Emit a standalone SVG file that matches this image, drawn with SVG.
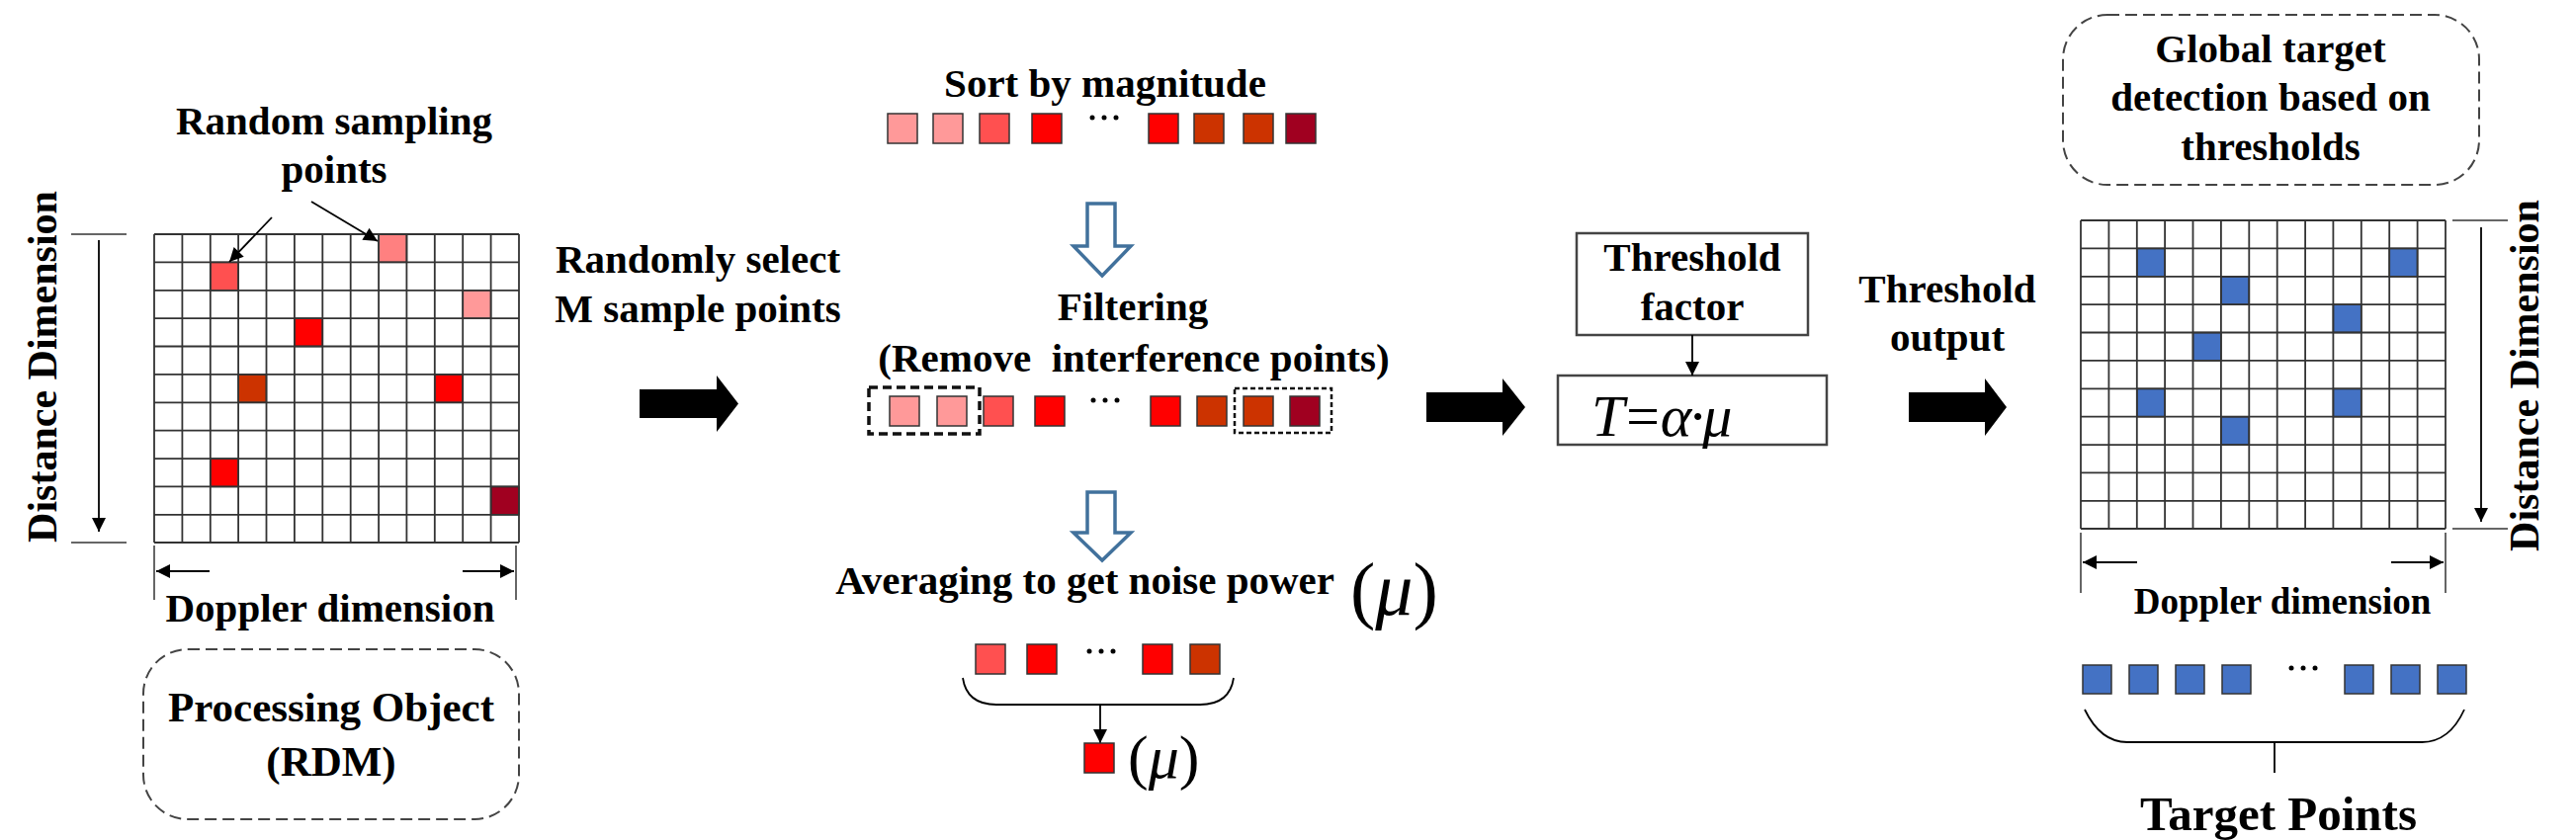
<svg xmlns="http://www.w3.org/2000/svg" width="2606" height="850" viewBox="0 0 2606 850">
<defs>
<style>
text{font-family:"Liberation Serif","Times New Roman",serif;font-weight:bold;fill:#000;font-size:41px}
.mid{text-anchor:middle}
.it{font-style:italic;font-weight:normal}
.grid{fill:none;stroke:#333;stroke-width:1.8}
.sq{stroke:#333;stroke-width:1.5}
.thin{stroke:#000;stroke-width:1.8;fill:none}
.gray{stroke:#666;stroke-width:2;fill:none}
.dbox{fill:none;stroke:#444;stroke-width:2;stroke-dasharray:12 6}
.hollow{fill:#fff;stroke:#41719C;stroke-width:3.5;stroke-linejoin:miter}
.box{fill:#fff;stroke:#444;stroke-width:2.5}
.dot{fill:#000}
.c1{fill:#FF9999}.c2{fill:#FF5050}.c3{fill:#FF0000}.c4{fill:#CC3300}.c5{fill:#A00020}.c0{fill:#FF8080}.b{fill:#4472C4}
</style>
<marker id="ahL" viewBox="0 0 10 10" refX="10" refY="5" markerWidth="16" markerHeight="14" markerUnits="userSpaceOnUse" orient="auto"><path d="M0,0 L10,5 L0,10 z" fill="#000"/></marker>
</defs>
<rect width="2606" height="850" fill="#fff"/>

<g id="rdm-grid">
<rect class="sq c2" x="212.8" y="265.4" width="28.4" height="28.4"/>
<rect class="sq c0" x="383.1" y="237" width="28.4" height="28.4"/>
<rect class="sq c1" x="468.2" y="293.8" width="28.4" height="28.4"/>
<rect class="sq c3" x="297.9" y="322.1" width="28.4" height="28.4"/>
<rect class="sq c4" x="241.1" y="378.9" width="28.4" height="28.4"/>
<rect class="sq c3" x="439.8" y="378.9" width="28.4" height="28.4"/>
<rect class="sq c3" x="212.8" y="464.1" width="28.4" height="28.4"/>
<rect class="sq c5" x="496.6" y="492.4" width="28.4" height="28.4"/>
<path class="grid" d="M156,237V549M184.4,237V549M212.8,237V549M241.1,237V549M269.5,237V549M297.9,237V549M326.3,237V549M354.7,237V549M383.1,237V549M411.4,237V549M439.8,237V549M468.2,237V549M496.6,237V549M525,237V549M156,237H525M156,265.4H525M156,293.8H525M156,322.1H525M156,350.5H525M156,378.9H525M156,407.3H525M156,435.7H525M156,464.1H525M156,492.4H525M156,520.8H525M156,549H525"/>
<text x="338" y="136" class="mid">Random sampling</text>
<text x="338" y="185" class="mid">points</text>
<path class="gray" d="M72,237H128M72,549H128M156,552V607M522,552V607"/>
<line class="thin" x1="100" y1="243" x2="100" y2="538" marker-end="url(#ahL)"/>
<line class="thin" x1="212" y1="578" x2="158" y2="578" marker-end="url(#ahL)"/>
<line class="thin" x1="468" y1="578" x2="520" y2="578" marker-end="url(#ahL)"/>
<text transform="translate(57,371) rotate(-90)" class="mid" style="font-size:42px">Distance Dimension</text>
<text x="334" y="629" class="mid">Doppler dimension</text>
</g>

<g id="processing-object">
<rect class="dbox" x="145" y="657" width="380" height="172" rx="45"/>
<text x="335" y="730" class="mid" style="font-size:43px">Processing Object</text>
<text x="335" y="785" class="mid" style="font-size:43px">(RDM)</text>
</g>

<g id="random-select">
<text x="706" y="276" class="mid">Randomly select</text>
<text x="706" y="326" class="mid">M sample points</text>
</g>

<g id="sort">
<text x="1118" y="98" class="mid">Sort by magnitude</text>
<rect class="sq c1" x="898" y="115" width="30" height="30"/>
<rect class="sq c1" x="944" y="115" width="30" height="30"/>
<rect class="sq c2" x="991" y="115" width="30" height="30"/>
<rect class="sq c3" x="1044" y="115" width="30" height="30"/>
<circle class="dot" cx="1105" cy="119" r="2.5"/><circle class="dot" cx="1117" cy="119" r="2.5"/><circle class="dot" cx="1129" cy="119" r="2.5"/>
<rect class="sq c3" x="1162" y="115" width="30" height="30"/>
<rect class="sq c4" x="1208" y="115" width="30" height="30"/>
<rect class="sq c4" x="1258" y="115" width="30" height="30"/>
<rect class="sq c5" x="1301" y="115" width="30" height="30"/>
</g>

<g id="filtering">
<text x="1146" y="324" class="mid">Filtering</text>
<text x="1147" y="376" class="mid" xml:space="preserve">(Remove  interference points)</text>
<rect class="sq c1" x="900" y="401" width="30" height="30"/>
<rect class="sq c1" x="948" y="401" width="30" height="30"/>
<rect class="sq c2" x="995" y="401" width="30" height="30"/>
<rect class="sq c3" x="1047" y="401" width="30" height="30"/>
<circle class="dot" cx="1106" cy="405" r="2.5"/><circle class="dot" cx="1118" cy="405" r="2.5"/><circle class="dot" cx="1130" cy="405" r="2.5"/>
<rect class="sq c3" x="1164" y="401" width="30" height="30"/>
<rect class="sq c4" x="1211" y="401" width="30" height="30"/>
<rect class="sq c4" x="1258" y="401" width="30" height="30"/>
<rect class="sq c5" x="1305" y="401" width="30" height="30"/>
<rect x="879" y="392" width="112" height="47" fill="none" stroke="#111" stroke-width="3.5" stroke-dasharray="9 5"/>
<rect x="1249" y="393" width="98" height="45" fill="none" stroke="#111" stroke-width="2.5" stroke-dasharray="5 3"/>
</g>

<g id="averaging">
<text x="1350" y="601" text-anchor="end">Averaging to get noise power</text>
<text x="1366" y="622" style="font-size:76px;font-weight:normal">(<tspan class="it">μ</tspan>)</text>
<rect class="sq c2" x="987" y="652" width="30" height="30"/>
<rect class="sq c3" x="1039" y="652" width="30" height="30"/>
<circle class="dot" cx="1102" cy="659" r="2.5"/><circle class="dot" cx="1114" cy="659" r="2.5"/><circle class="dot" cx="1126" cy="659" r="2.5"/>
<rect class="sq c3" x="1156" y="652" width="30" height="30"/>
<rect class="sq c4" x="1204" y="652" width="30" height="30"/>
<path class="thin" stroke-width="2.5" d="M974,686 Q978,713 1008,713 L1214,713 Q1244,713 1248,686"/>
<line class="thin" x1="1113" y1="713" x2="1113" y2="752" marker-end="url(#ahL)"/>
<rect class="sq c3" x="1097" y="752" width="30" height="30"/>
<text x="1141" y="787" style="font-size:62px;font-weight:normal">(<tspan class="it">μ</tspan>)</text>
</g>

<g id="threshold-factor">
<rect class="box" x="1595" y="236" width="234" height="103"/>
<text x="1712" y="274" class="mid">Threshold</text>
<text x="1712" y="324" class="mid">factor</text>
</g>

<g id="threshold-formula">
<rect class="box" x="1576" y="380" width="272" height="70"/>
<text x="1610" y="441" style="font-size:60px;font-style:italic;font-weight:normal;letter-spacing:-2px">T=α·μ</text>
</g>

<g id="threshold-output">
<text x="1970" y="306" class="mid">Threshold</text>
<text x="1970" y="355" class="mid">output</text>
</g>

<g id="global-detection">
<rect class="dbox" x="2087" y="15" width="421" height="172" rx="45"/>
<text x="2297" y="63" class="mid">Global target</text>
<text x="2297" y="112" class="mid">detection based on</text>
<text x="2297" y="162" class="mid">thresholds</text>
</g>

<g id="result-grid">
<rect class="sq b" x="2161.8" y="251.4" width="28.4" height="28.4"/>
<rect class="sq b" x="2417.2" y="251.4" width="28.4" height="28.4"/>
<rect class="sq b" x="2246.9" y="279.8" width="28.4" height="28.4"/>
<rect class="sq b" x="2360.4" y="308.1" width="28.4" height="28.4"/>
<rect class="sq b" x="2218.5" y="336.5" width="28.4" height="28.4"/>
<rect class="sq b" x="2161.8" y="393.3" width="28.4" height="28.4"/>
<rect class="sq b" x="2360.4" y="393.3" width="28.4" height="28.4"/>
<rect class="sq b" x="2246.9" y="421.7" width="28.4" height="28.4"/>
<path class="grid" d="M2105,223V535M2133.4,223V535M2161.8,223V535M2190.1,223V535M2218.5,223V535M2246.9,223V535M2275.3,223V535M2303.7,223V535M2332.1,223V535M2360.4,223V535M2388.8,223V535M2417.2,223V535M2445.6,223V535M2474,223V535M2105,223H2474M2105,251.4H2474M2105,279.8H2474M2105,308.1H2474M2105,336.5H2474M2105,364.9H2474M2105,393.3H2474M2105,421.7H2474M2105,450.1H2474M2105,478.4H2474M2105,506.8H2474M2105,535H2474"/>
<path class="gray" d="M2481,223H2537M2481,535H2537M2105,539V600M2474,539V600"/>
<line class="thin" x1="2510" y1="230" x2="2510" y2="528" marker-end="url(#ahL)"/>
<line class="thin" x1="2162" y1="569" x2="2107" y2="569" marker-end="url(#ahL)"/>
<line class="thin" x1="2419" y1="569" x2="2472" y2="569" marker-end="url(#ahL)"/>
<text transform="translate(2568,380) rotate(-90)" class="mid" style="font-size:42px">Distance Dimension</text>
<text x="2309" y="621" class="mid" style="font-size:37px">Doppler dimension</text>
</g>

<g id="target-points">
<rect class="sq b" x="2107" y="673" width="29" height="29"/>
<rect class="sq b" x="2154" y="673" width="29" height="29"/>
<rect class="sq b" x="2201" y="673" width="29" height="29"/>
<rect class="sq b" x="2248" y="673" width="29" height="29"/>
<circle class="dot" cx="2318" cy="676" r="2.5"/><circle class="dot" cx="2330" cy="676" r="2.5"/><circle class="dot" cx="2342" cy="676" r="2.5"/>
<rect class="sq b" x="2372" y="673" width="29" height="29"/>
<rect class="sq b" x="2419" y="673" width="29" height="29"/>
<rect class="sq b" x="2466" y="673" width="29" height="29"/>
<path class="thin" stroke-width="2.5" d="M2109,718 Q2125,751 2152,751 L2450,751 Q2478,751 2493,718 M2301,751 V782"/>
<text x="2305" y="840" class="mid" style="font-size:49px">Target Points</text>
</g>

<g id="connectors">
<line class="thin" x1="275" y1="220" x2="232" y2="265" marker-end="url(#ahL)"/>
<line class="thin" x1="315" y1="204" x2="382" y2="244" marker-end="url(#ahL)"/>
<path d="M647,394H725V380L747,408.5L725,437V423H647Z" fill="#000"/>
<path d="M1443,397H1520V383L1543,412L1520,441V427H1443Z" fill="#000"/>
<path d="M1931,397H2008V383L2030,412L2008,441V427H1931Z" fill="#000"/>
<path class="hollow" d="M1100,206H1128V249H1144L1115,279L1086,249H1100Z"/>
<path class="hollow" d="M1100,498H1128V539H1144L1115,567L1086,539H1100Z"/>
<line class="thin" x1="1712" y1="339" x2="1712" y2="380" marker-end="url(#ahL)"/>
</g>
</svg>
